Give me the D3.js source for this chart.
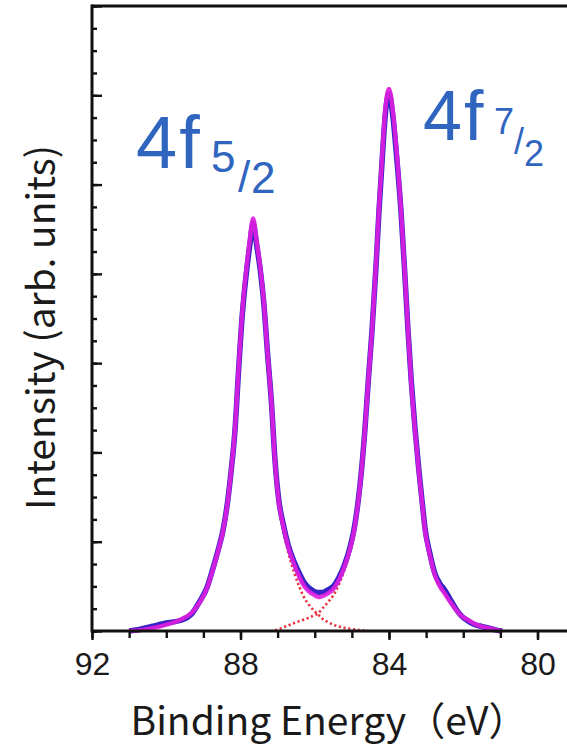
<!DOCTYPE html>
<html>
<head>
<meta charset="utf-8">
<script src="https://cdn.jsdelivr.net/npm/d3@7"></script>
<style>
html,body{margin:0;padding:0;background:#fff;}
svg{display:block;}
</style>
</head>
<body>
<script>
// ---- Data ----
const energy = [
  91.0, 90.7, 90.4, 90.0, 89.6, 89.3, 89.1, 88.9, 88.75, 88.6,
  88.47, 88.35, 88.25, 88.15, 88.05, 87.95, 87.85, 87.75, 87.66, 87.57,
  87.47, 87.37, 87.27, 87.17, 87.07, 86.97, 86.85, 86.72, 86.55, 86.42,
  86.28, 86.15, 86.0, 85.9, 85.8, 85.65, 85.5, 85.35, 85.2, 85.05,
  84.95, 84.85, 84.75, 84.65, 84.55, 84.46, 84.35, 84.27, 84.18, 84.1,
  84.0, 83.9, 83.8, 83.68, 83.58, 83.49, 83.4, 83.3, 83.2, 83.1,
  83.03, 82.9, 82.76, 82.63, 82.5, 82.36, 82.2, 82.05, 81.9, 81.74,
  81.5, 81.28, 81.1, 80.95
];
const measured = [
  0.00, 0.02, 0.05, 0.09, 0.12, 0.20, 0.33, 0.49, 0.69, 0.91,
  1.13, 1.44, 1.80, 2.24, 2.93, 3.55, 3.98, 4.32, 4.57, 4.34,
  4.05, 3.66, 3.10, 2.58, 1.91, 1.47, 1.20, 0.97, 0.77, 0.65,
  0.54, 0.48, 0.44, 0.43, 0.43, 0.46, 0.50, 0.60, 0.74, 0.94,
  1.12, 1.39, 1.76, 2.25, 2.85, 3.35, 4.08, 4.70, 5.30, 5.78,
  6.02, 5.78, 5.34, 4.72, 4.04, 3.38, 2.80, 2.27, 1.82, 1.42,
  1.15, 0.87, 0.64, 0.53, 0.46, 0.36, 0.25, 0.17, 0.12, 0.08,
  0.05, 0.03, 0.01, 0.00
];
const fitted = [
  0.00, 0.01, 0.03, 0.07, 0.13, 0.21, 0.32, 0.48, 0.68, 0.90,
  1.12, 1.43, 1.80, 2.25, 2.95, 3.58, 4.02, 4.38, 4.62, 4.38,
  4.08, 3.68, 3.10, 2.58, 1.90, 1.45, 1.18, 0.95, 0.74, 0.61,
  0.50, 0.44, 0.40, 0.38, 0.39, 0.42, 0.47, 0.57, 0.72, 0.92,
  1.10, 1.38, 1.75, 2.25, 2.85, 3.35, 4.10, 4.74, 5.35, 5.84,
  6.07, 5.84, 5.40, 4.74, 4.05, 3.38, 2.78, 2.25, 1.80, 1.40,
  1.13, 0.85, 0.62, 0.50, 0.42, 0.33, 0.24, 0.17, 0.13, 0.09,
  0.05, 0.03, 0.01, 0.00
];
const comp52 = [
  0.00, 0.01, 0.03, 0.07, 0.13, 0.21, 0.32, 0.48, 0.68, 0.90,
  1.12, 1.43, 1.80, 2.25, 2.95, 3.58, 4.02, 4.38, 4.61, 4.37,
  4.07, 3.67, 3.09, 2.57, 1.88, 1.43, 1.13, 0.89, 0.65, 0.50,
  0.37, 0.29, 0.22, 0.18, 0.14, 0.10, 0.07, 0.05, 0.035, 0.025,
  0.018, 0.012, 0.008, 0.004, 0.00, null, null, null, null, null,
  null, null, null, null, null, null, null, null, null, null,
  null, null, null, null, null, null, null, null, null, null,
  null, null, null, null
];
const comp72 = [
  null, null, null, null, null, null, null, null, null, null,
  null, null, null, null, null, null, null, null, null, null,
  null, null, null, null, 0.01, 0.02, 0.04, 0.06, 0.09, 0.11,
  0.13, 0.15, 0.18, 0.20, 0.25, 0.32, 0.40, 0.52, 0.685, 0.895,
  1.08, 1.37, 1.74, 2.245, 2.847, 3.348, 4.099, 4.74, 5.35, 5.84,
  6.07, 5.84, 5.40, 4.74, 4.05, 3.38, 2.78, 2.25, 1.80, 1.40,
  1.13, 0.85, 0.62, 0.50, 0.42, 0.33, 0.24, 0.17, 0.13, 0.09,
  0.05, 0.03, 0.01, 0.00
];
const xMajorTicks = [92, 88, 84, 80];
const xMinorTicks = [92, 91, 90, 89, 88, 87, 86, 85, 84, 83, 82, 81, 80];
const yMajorTicks = [0, 1, 2, 3, 4, 5, 6, 7];
const yMinorTicks = d3.range(0, 7.01, 0.25);
const xTitle = "Binding Energy（eV）";
const yTitle = "Intensity (arb. units)";

// ---- Layout ----
const W = 567, H = 747;
const svg = d3.select("body").append("svg").attr("width", W).attr("height", H)
  .style("background", "#fff");

const x = d3.scaleLinear().domain([92, 80]).range([92, 537.5]);
const y = d3.scaleLinear().domain([0, 7]).range([631, 6]);

const toPts = vals => energy.map((e, i) => ({e, v: vals[i]}));
const line = d3.line()
  .defined(d => d.v !== null && d.v !== undefined)
  .x(d => x(d.e)).y(d => y(d.v))
  .curve(d3.curveMonotoneX);

// components (red dotted)
[comp52, comp72].forEach(c => {
  svg.append("path").datum(toPts(c))
    .attr("d", line).attr("fill", "none")
    .attr("stroke", "#e8323e").attr("stroke-width", 2.6)
    .attr("stroke-dasharray", "2.2,2.6");
});
// measured data (blue)
svg.append("path").datum(toPts(measured))
  .attr("d", line).attr("fill", "none")
  .attr("stroke", "#3322c4").attr("stroke-width", 5.5)
  .attr("stroke-linejoin", "round");
// fitted envelope (magenta)
svg.append("path").datum(toPts(fitted))
  .attr("d", line).attr("fill", "none")
  .attr("stroke", "#e01ee0").attr("stroke-width", 4.4)
  .attr("stroke-opacity", 0.9)
  .attr("stroke-linejoin", "round");

// ---- Axes ----
const axisFont = "'Liberation Sans', Arial, sans-serif";
const gx = svg.append("g").attr("transform", `translate(0,${y(0)})`);
gx.append("g").call(d3.axisBottom(x).tickValues(xMinorTicks).tickSize(7).tickFormat(""));
gx.append("g").call(d3.axisBottom(x).tickValues(xMajorTicks).tickSize(9).tickPadding(12)
  .tickFormat(d3.format("d")));
gx.selectAll("path.domain").remove();
gx.selectAll("line").attr("stroke", "#111").attr("stroke-width", 2.4);
gx.selectAll("text").attr("font-family", axisFont).attr("font-size", 32).attr("fill", "#1a1a1a");

const gy = svg.append("g").attr("transform", `translate(${x(92)},0)`);
gy.append("g").call(d3.axisRight(y).tickValues(yMinorTicks).tickSize(5).tickFormat(""));
gy.append("g").call(d3.axisRight(y).tickValues(yMajorTicks).tickSize(10).tickFormat(""));
gy.selectAll("path.domain").remove();
gy.selectAll("line").attr("stroke", "#111").attr("stroke-width", 2.4);

// frame
const frame = svg.append("g").attr("stroke", "#111").attr("stroke-width", 3).attr("fill", "none");
frame.append("line").attr("x1", x(92)).attr("x2", x(92)).attr("y1", y(7) - 1.5).attr("y2", y(0) + 1.5);
frame.append("line").attr("x1", x(92)).attr("x2", W + 5).attr("y1", y(0)).attr("y2", y(0));
frame.append("line").attr("x1", x(92)).attr("x2", W + 5).attr("y1", y(7)).attr("y2", y(7));

// titles
svg.append("text").attr("x", 329).attr("y", 735).attr("text-anchor", "middle")
  .attr("font-family", "'Noto Sans CJK JP', 'Noto Sans', sans-serif")
  .attr("font-size", 39).attr("fill", "#1a1a1a").text(xTitle);
svg.append("text").attr("transform", "translate(55,510) rotate(-90)")
  .attr("text-anchor", "start")
  .attr("font-family", "'Noto Sans CJK JP', 'Noto Sans', sans-serif")
  .attr("font-size", 39).attr("fill", "#1a1a1a").text(yTitle);

// peak annotations (hand-written in the reference)
const annColor = "#2f64bf";
const annFont = "'Liberation Sans', Arial, sans-serif";
function annotate(x0, base, size, sub, subPos, subSize) {
  svg.append("text").attr("x", x0).attr("y", base)
    .attr("font-family", annFont).attr("font-size", size)
    .attr("letter-spacing", 2).attr("fill", annColor).text("4f");
  const t = svg.append("text").attr("font-family", annFont)
    .attr("font-size", subSize).attr("fill", annColor);
  sub.forEach((ch, i) => t.append("tspan").attr("x", subPos[i][0]).attr("y", subPos[i][1]).text(ch));
}
annotate(136, 168, 74, ["5", "/", "2"], [[211, 172], [238, 192], [251, 193]], 44);
annotate(423, 140, 70, ["7", "/", "2"], [[494, 134], [514, 154], [524, 166]], 36);
</script>
</body>
</html>
